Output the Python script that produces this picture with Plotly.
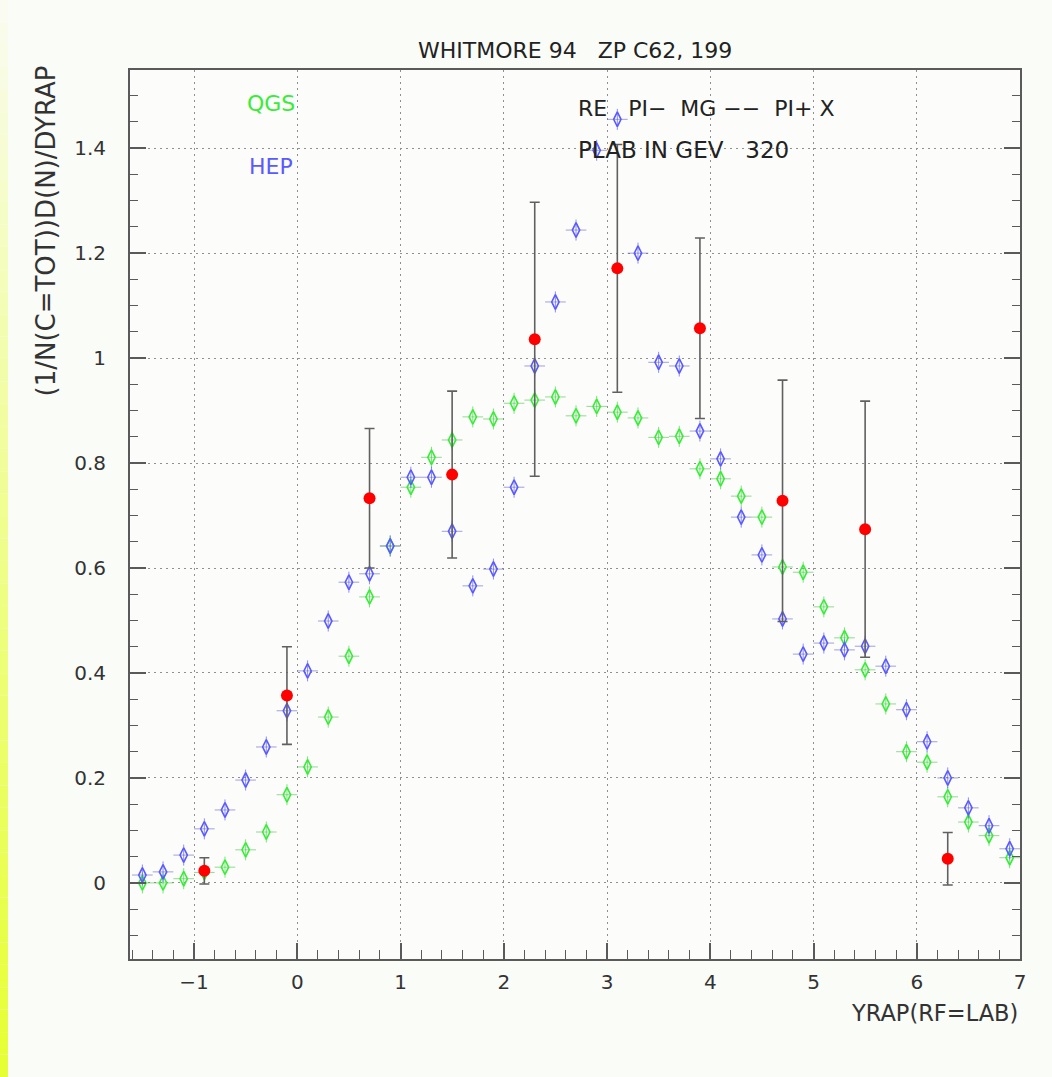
import plotly.graph_objects as go

# ---------------- data ----------------
yrap_model = [-1.5, -1.3, -1.1, -0.9, -0.7, -0.5, -0.3, -0.1,
              0.1, 0.3, 0.5, 0.7, 0.9,
              1.1, 1.3, 1.5, 1.7, 1.9,
              2.1, 2.3, 2.5, 2.7, 2.9,
              3.1, 3.3, 3.5, 3.7, 3.9,
              4.1, 4.3, 4.5, 4.7, 4.9,
              5.1, 5.3, 5.5, 5.7, 5.9,
              6.1, 6.3, 6.5, 6.7, 6.9]

qgs = [0.000, 0.000, 0.008, 0.020, 0.030, 0.063, 0.097, 0.168,
       0.221, 0.316, 0.432, 0.545, 0.642,
       0.754, 0.811, 0.844, 0.888, 0.884,
       0.914, 0.920, 0.926, 0.890, 0.908,
       0.897, 0.886, 0.849, 0.851, 0.789,
       0.770, 0.737, 0.697, 0.602, 0.592,
       0.526, 0.467, 0.406, 0.341, 0.250,
       0.230, 0.164, 0.116, 0.090, 0.048]

hep = [0.015, 0.021, 0.053, 0.103, 0.139, 0.196, 0.259, 0.328,
       0.404, 0.499, 0.573, 0.589, 0.642,
       0.773, 0.773, 0.670, 0.566, 0.598,
       0.754, 0.985, 1.107, 1.244, 1.396,
       1.455, 1.200, 0.992, 0.985, 0.861,
       0.808, 0.697, 0.625, 0.503, 0.436,
       0.457, 0.444, 0.451, 0.413, 0.330,
       0.269, 0.200, 0.143, 0.109, 0.065]

yrap_data = [-0.9, -0.1, 0.7, 1.5, 2.3, 3.1, 3.9, 4.7, 5.5, 6.3]
dndy_data = [0.023, 0.357, 0.733, 0.778, 1.036, 1.171, 1.057, 0.728, 0.674, 0.046]
dndy_err = [0.025, 0.093, 0.133, 0.159, 0.261, 0.236, 0.172, 0.230, 0.244, 0.050]

bin_half_width = 0.1
model_stat_err = 0.02

x_ticks = [-1, 0, 1, 2, 3, 4, 5, 6, 7]
y_ticks = [0, 0.2, 0.4, 0.6, 0.8, 1.0, 1.2, 1.4]
y_tick_text = ["0", "0.2", "0.4", "0.6", "0.8", "1", "1.2", "1.4"]

# ---------------- styling ----------------
GREEN = "#38ec38"
BLUE = "#5a5aff"
RED = "#ff0000"
AXIS = "#5a5a5a"
FONT = "DejaVu Sans"

W, H = 1052, 1077
L, R, T, B = 130, 32, 70, 118
PW, PH = W - L - R, H - T - B


def px(xp):
    return (xp - L) / PW


def py(yp):
    return (H - B - yp) / PH


fig = go.Figure()

fig.add_trace(go.Scatter(
    x=yrap_model, y=qgs, mode="markers", name="QGS",
    marker=dict(symbol="diamond-tall-open", size=10.5, color=GREEN,
                line=dict(width=1.6, color=GREEN)),
    error_x=dict(type="constant", value=bin_half_width, color="rgba(80,190,80,0.6)",
                 thickness=1, width=0),
    error_y=dict(type="constant", value=model_stat_err, color="rgba(60,220,60,0.7)",
                 thickness=1, width=0),
    showlegend=False,
))

fig.add_trace(go.Scatter(
    x=yrap_model, y=hep, mode="markers", name="HEP",
    marker=dict(symbol="diamond-tall-open", size=10.5, color=BLUE,
                line=dict(width=1.6, color=BLUE)),
    error_x=dict(type="constant", value=bin_half_width, color="rgba(100,100,190,0.6)",
                 thickness=1, width=0),
    error_y=dict(type="constant", value=model_stat_err, color="rgba(90,90,255,0.7)",
                 thickness=1, width=0),
    showlegend=False,
))

fig.add_trace(go.Scatter(
    x=yrap_data, y=dndy_data, mode="markers", name="data",
    marker=dict(symbol="circle", size=12, color=RED),
    error_y=dict(type="data", array=dndy_err, color="#606060", thickness=1.6, width=5),
    showlegend=False,
))

# left yellow stripe (page decoration)
n_seg = 48
top_c = (250, 252, 244)
bot_c = (230, 255, 50)
for i in range(n_seg):
    y0p = H * i / n_seg
    y1p = H * (i + 1) / n_seg
    t = ((i + 0.5) / n_seg) ** 0.9
    c = tuple(int(round(top_c[k] + (bot_c[k] - top_c[k]) * t)) for k in range(3))
    fig.add_shape(type="rect", xref="paper", yref="paper",
                  x0=px(0), x1=px(8), y0=py(y1p), y1=py(y0p),
                  line=dict(width=0), fillcolor="rgb(%d,%d,%d)" % c, layer="below")

ann = []
ann.append(dict(text="WHITMORE 94\u00a0\u00a0\u00a0ZP C62, 199", x=px(575), y=py(50),
                xanchor="center", yanchor="middle", font=dict(size=22, color="#222222")))
ann.append(dict(text="QGS", x=px(271), y=py(103), xanchor="center", yanchor="middle",
                font=dict(size=22, color=GREEN)))
ann.append(dict(text="HEP", x=px(271), y=py(167), xanchor="center", yanchor="middle",
                font=dict(size=22, color=BLUE)))
ann.append(dict(text="RE\u00a0\u00a0\u00a0PI\u2212\u00a0\u00a0MG\u00a0\u2212\u2212\u00a0\u00a0PI+\u00a0X",
                x=px(576), y=py(108), xanchor="left", yanchor="middle",
                font=dict(size=22, color="#222222")))
ann.append(dict(text="PLAB IN GEV\u00a0\u00a0\u00a0320", x=px(576), y=py(150),
                xanchor="left", yanchor="middle", font=dict(size=23, color="#222222")))
ann.append(dict(text="YRAP(RF=LAB)", x=px(1020), y=py(1013), xanchor="right",
                yanchor="middle", font=dict(size=22.5, color="#333333")))
ann.append(dict(text="(1/N(C=TOT))D(N)/DYRAP", x=px(45), y=py(64), xanchor="center",
                yanchor="top", textangle=-90, font=dict(size=26, color="#333333")))
for a in ann:
    a.update(xref="paper", yref="paper", showarrow=False)
fig.update_layout(annotations=ann)

axis_common = dict(
    showline=True, linecolor=AXIS, linewidth=2,
    ticks="inside", tickcolor=AXIS, tickwidth=1.5, ticklen=16,
    showgrid=True, gridcolor="#909090", griddash="2px,4px", gridwidth=1.3,
    zeroline=False,
    tickfont=dict(family=FONT, size=20, color="#333333"),
)

fig.update_xaxes(**axis_common, range=[-1.62, 7.0], tickvals=x_ticks, mirror=True,
                 minor=dict(ticks="inside", dtick=0.2, tick0=0, ticklen=9,
                            tickcolor=AXIS, tickwidth=1.2, showgrid=False),
                 ticklabelstandoff=4)
fig.update_yaxes(**axis_common, range=[-0.145, 1.549], tickvals=y_ticks,
                 ticktext=y_tick_text, mirror="ticks",
                 minor=dict(ticks="inside", dtick=0.05, tick0=0, ticklen=8,
                            tickcolor=AXIS, tickwidth=1.2, showgrid=False),
                 ticklabelstandoff=18)

fig.update_layout(
    width=W, height=H,
    margin=dict(l=L, r=R, t=T, b=B, pad=0),
    paper_bgcolor="#fafcf8",
    plot_bgcolor="#fcfdfb",
    font=dict(family=FONT, color="#333333"),
    showlegend=False,
)

fig.write_html("out.html")
